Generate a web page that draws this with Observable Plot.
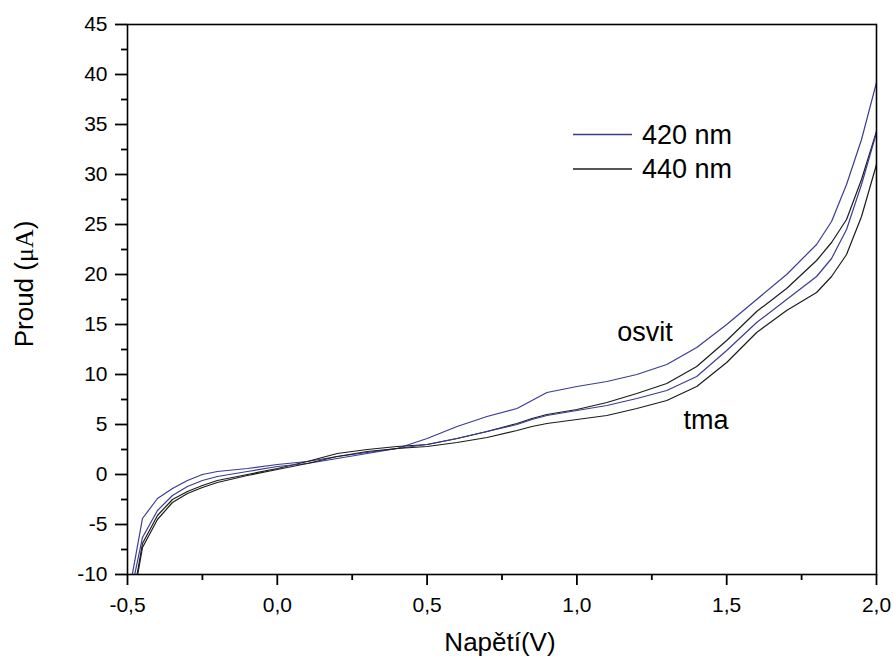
<!DOCTYPE html>
<html>
<head>
<meta charset="utf-8">
<script src="https://cdn.jsdelivr.net/npm/d3@7"></script>
<script src="https://cdn.jsdelivr.net/npm/@observablehq/plot@0.6"></script>
<style>
  html, body { margin: 0; padding: 0; background: #fff; }
  #chart { width: 894px; height: 660px; }
</style>
</head>
<body>
<div id="chart"></div>
<script>
// ---- data ----
const voltage = [-0.45, -0.40, -0.35, -0.30, -0.25, -0.20, -0.10, 0.00, 0.10, 0.20, 0.30, 0.40, 0.50, 0.60, 0.70, 0.80, 0.85, 0.90, 1.00, 1.10, 1.20, 1.30, 1.40, 1.50, 1.60, 1.70, 1.80, 1.85, 1.90, 1.95, 2.00];

// 420 nm, illuminated (osvit) – blue, top
const i420osvit = [-4.4, -2.4, -1.4, -0.6, 0.0, 0.3, 0.6, 1.0, 1.3, 1.8, 2.2, 2.6, 3.6, 4.8, 5.8, 6.6, 7.4, 8.2, 8.8, 9.3, 10.0, 11.0, 12.7, 15.0, 17.5, 20.0, 23.0, 25.3, 29.0, 33.5, 39.2];
// 440 nm, illuminated (osvit) – black
const i440osvit = [-6.9, -4.1, -2.5, -1.7, -1.1, -0.6, 0.0, 0.6, 1.3, 2.1, 2.5, 2.8, 3.0, 3.6, 4.3, 5.1, 5.6, 6.0, 6.5, 7.2, 8.1, 9.1, 10.8, 13.4, 16.3, 18.6, 21.4, 23.2, 25.5, 29.5, 34.3];
// 420 nm, dark (tma) – blue
const i420tma = [-6.3, -3.6, -2.1, -1.2, -0.6, -0.2, 0.3, 0.8, 1.1, 1.6, 2.1, 2.6, 3.0, 3.6, 4.3, 5.0, 5.5, 5.9, 6.4, 6.9, 7.6, 8.4, 9.8, 12.4, 15.2, 17.5, 19.8, 21.6, 24.5, 29.0, 34.2];
// 440 nm, dark (tma) – black, bottom
const i440tma = [-7.3, -4.5, -2.8, -1.9, -1.3, -0.8, -0.1, 0.5, 1.1, 1.8, 2.3, 2.6, 2.8, 3.2, 3.7, 4.4, 4.8, 5.1, 5.5, 5.9, 6.6, 7.4, 8.8, 11.2, 14.2, 16.4, 18.2, 19.8, 22.0, 25.8, 31.0];

// voltage where each curve enters the plot at −10 µA
const seriesNames = ["420 nm osvit", "440 nm osvit", "420 nm tma", "440 nm tma"];
const seriesWavelength = ["420 nm", "440 nm", "420 nm", "440 nm"];
const startVoltage = [-0.484, -0.468, -0.476, -0.466];
const startCurrent = [-10, -10, -10, -10];
const seriesValues = [i420osvit, i440osvit, i420tma, i440tma];

const legendLabels = ["420 nm", "440 nm"];
const legendColors = ["#3b3b94", "#1c1c1c"];

const xTicks = [-0.5, 0.0, 0.5, 1.0, 1.5, 2.0];
const xMinor = [-0.25, 0.25, 0.75, 1.25, 1.75];
const yTicks = [-10, -5, 0, 5, 10, 15, 20, 25, 30, 35, 40, 45];
const yMinor = [-7.5, -2.5, 2.5, 7.5, 12.5, 17.5, 22.5, 27.5, 32.5, 37.5, 42.5];

const annotText = ["osvit", "tma"];
const annotV = [1.135, 1.356];
const annotI = [13.4, 4.6];

// ---- build table ----
const rows = [];
seriesNames.forEach((name, k) => {
  rows.push({ v: startVoltage[k], i: startCurrent[k], s: name, w: seriesWavelength[k] });
  voltage.forEach((v, j) => rows.push({ v, i: seriesValues[k][j], s: name, w: seriesWavelength[k] }));
});
const annots = annotText.map((t, k) => ({ t, v: annotV[k], i: annotI[k] }));

const fmtX = d => d.toFixed(1).replace(".", ",");
const fmtY = d => String(d);
const FONT = "'Liberation Sans', Arial, sans-serif";

const chart = Plot.plot({
  width: 894,
  height: 660,
  marginLeft: 127,
  marginRight: 18,
  marginTop: 24,
  marginBottom: 86,
  style: { fontFamily: FONT, fontSize: "21px", color: "#000", background: "#fff" },
  x: { domain: [-0.5, 2.0] },
  y: { domain: [-10, 45] },
  color: { domain: legendLabels, range: legendColors },
  marks: [
    Plot.line(rows, { x: "v", y: "i", z: "s", stroke: "w", strokeWidth: 1.2, clip: true }),
    Plot.text(annots, { x: "v", y: "i", text: "t", textAnchor: "start", lineAnchor: "bottom", fontSize: 27, fill: "#000" }),
    Plot.frame({ stroke: "#000", strokeWidth: 1.6 }),
    Plot.axisX({ ticks: xTicks, tickSize: 11, tickPadding: 12, tickFormat: fmtX, label: null, strokeWidth: 1.8, fontSize: 21 }),
    Plot.axisX({ ticks: xMinor, tickSize: 6, tickFormat: () => "", label: null, strokeWidth: 1.8 }),
    Plot.axisY({ ticks: yTicks, tickSize: 12, tickPadding: 8, tickFormat: fmtY, label: null, strokeWidth: 1.8, fontSize: 21 }),
    Plot.axisY({ ticks: yMinor, tickSize: 6, tickFormat: () => "", label: null, strokeWidth: 1.8 })
  ]
});

document.getElementById("chart").appendChild(chart);

// ---- axis titles and legend ----
const svg = d3.select(chart);
svg.append("text")
  .attr("x", 500).attr("y", 651)
  .attr("text-anchor", "middle")
  .attr("font-size", 26)
  .attr("font-family", FONT)
  .attr("fill", "#000")
  .text("Napětí(V)");

const yl = svg.append("text")
  .attr("transform", "translate(33,284) rotate(-90)")
  .attr("text-anchor", "middle")
  .attr("font-size", 26)
  .attr("font-family", FONT)
  .attr("fill", "#000");
yl.append("tspan").text("Proud (");
yl.append("tspan").attr("font-family", "'Liberation Serif', 'Times New Roman', serif").text("μA");
yl.append("tspan").text(")");

const lg = svg.append("g");
legendLabels.forEach((lab, k) => {
  const yy = 134.5 + k * 34.5;
  lg.append("line").attr("x1", 573).attr("x2", 632).attr("y1", yy).attr("y2", yy)
    .attr("stroke", legendColors[k]).attr("stroke-width", 1.3);
  lg.append("text").attr("x", 642).attr("y", yy).attr("dy", "0.35em")
    .attr("text-anchor", "start")
    .attr("font-size", 27)
    .attr("font-family", FONT)
    .attr("fill", "#000").text(lab);
});
</script>
</body>
</html>
